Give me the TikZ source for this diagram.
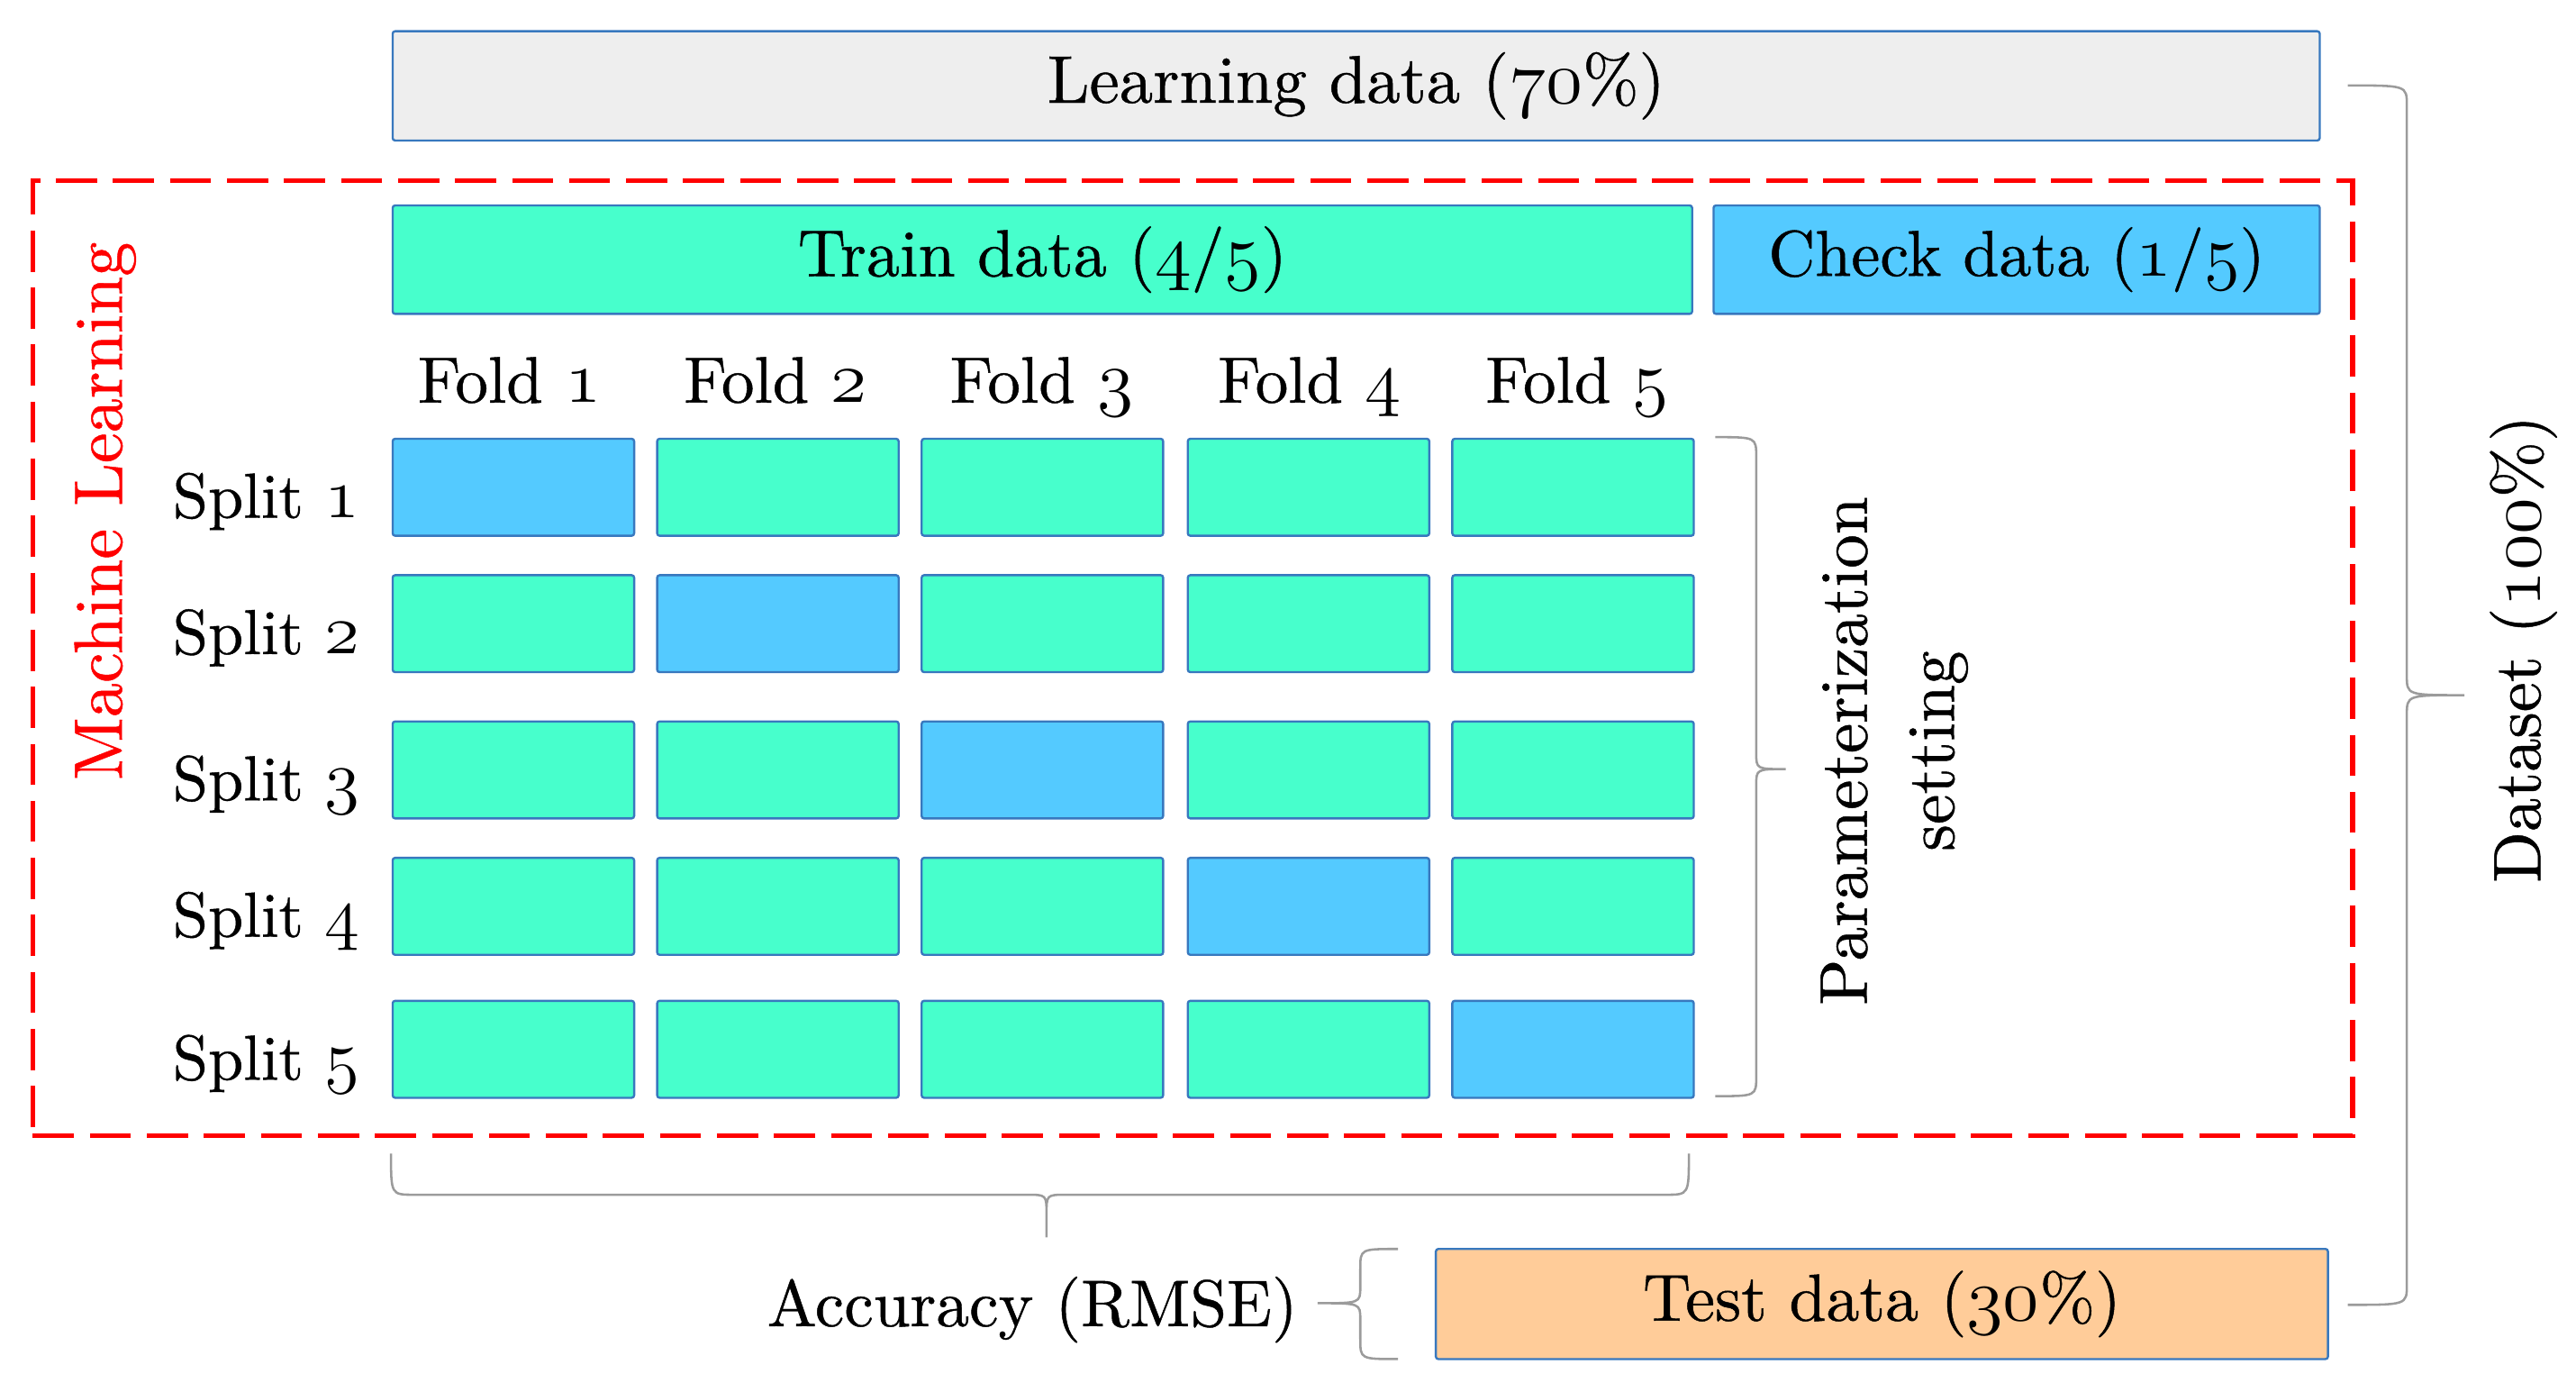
\RequirePackage{fix-cm}
\documentclass[tikz,border=0pt]{standalone}
\usepackage{fontspec}
\setmainfont{lmroman10-regular.otf}[RawFeature={embolden=0.6}]
\definecolor{cgreen}{RGB}{71,255,204}
\definecolor{cblue}{RGB}{84,202,255}
\definecolor{corange}{RGB}{255,204,153}
\definecolor{cgrey}{RGB}{238,238,238}
\definecolor{cedge}{RGB}{56,120,190}
\definecolor{cbrace}{RGB}{155,155,155}
\newcommand{\osn}[1]{{\fontsize{\fpeval{1.12*\csname f@size\endcsname}}{0}\usefont{OML}{cmm}{m}{it}#1}}
\newcommand{\fs}[1]{\fontsize{#1}{\fpeval{1.22*#1}}\selectfont}
\begin{document}
\begin{tikzpicture}[x=1pt,y=-1pt,
  box/.style={draw=cedge, line width=1.3pt, rounded corners=1.5pt, inner sep=0pt, outer sep=0pt, font=\fs{40.5}},
  cell/.style={box, minimum width=147pt, minimum height=59pt},
  lbl/.style={inner sep=0pt, font=\fs{40}},
  bracestyle/.style={draw=cbrace, line width=1.4pt},
  mlbox/.style={draw=red, line width=2.8pt, dash pattern=on 25pt off 9.7pt, inner sep=0pt}]
\useasboundingbox (0,0) rectangle (1568,846.5);
% dataset boxes
\node[box, fill=cgrey, minimum width=1173pt, minimum height=66.5pt, font=\fs{41}] (learn) at (825.5,52.25) {Learning data (\osn{70}\%)};
\node[mlbox, minimum width=1412pt, minimum height=581pt] (ml) at (726,400.5) {};
\node[box, fill=cgreen, minimum width=791pt, minimum height=66pt] (train) at (634.5,158) {Train data (\osn{4}/\osn{5})};
\node[box, fill=cblue, minimum width=369pt, minimum height=66pt, font=\fs{39.5}] (check) at (1227.5,158) {Check data (\osn{1}/\osn{5})};
\node[box, fill=corange, minimum width=543pt, minimum height=67pt] (test) at (1145.5,793.5) {Test data (\osn{30}\%)};
% fold labels
\foreach \c/\cx in {1/310,2/472,3/634,4/797,5/960}
  \node[lbl, anchor=base] (f\c) at (\cx,245) {Fold \osn{\c}};
% grid
\foreach \r/\cy in {1/296.5,2/379.5,3/468.5,4/551.5,5/638.5}{
  \node[lbl, anchor=base, font=\fs{38.7}] (s\r) at (162,\cy+18.5) {Split \osn{\r}};
  \foreach \c/\cx in {1/312.5,2/473.5,3/634.5,4/796.5,5/957.5}{
    \ifnum\r=\c \def\fc{cblue}\else\def\fc{cgreen}\fi
    \node[cell, fill=\fc] (c\r\c) at (\cx,\cy) {};
  }
}
% side texts
\node[lbl, rotate=90, text=red, font=\fs{41.7}] (mltxt) at (64,311) {Machine Learning};
\node[lbl, rotate=90, align=center, font=\fontsize{41.3}{53}\selectfont] (param) at (1153,457) {Parameterization\\setting};
\node[lbl, rotate=90, font=\fs{40.8}] (ds) at (1536,395) {Dataset (\osn{100}\%)};
\node[lbl, anchor=base east, font=\fs{40.2}] (acc) at (790,807) {Accuracy (RMSE)};
% braces
\draw[bracestyle] (1044,266) .. controls (1069,266) .. (1069,278) -- (1069,458) .. controls (1069,468) .. (1087,468)
  .. controls (1069,468) .. (1069,478) -- (1069,655) .. controls (1069,667) .. (1044,667);
\draw[bracestyle] (1429,52) .. controls (1465,52) .. (1465,64) -- (1465,411) .. controls (1465,423) .. (1500,423)
  .. controls (1465,423) .. (1465,435) -- (1465,782) .. controls (1465,794) .. (1429,794);
\draw[bracestyle] (851,760) .. controls (828,760) .. (828,772) -- (828,783) .. controls (828,793) .. (802,793)
  .. controls (828,793) .. (828,803) -- (828,815) .. controls (828,827) .. (851,827);
\draw[bracestyle] (238,702) .. controls (238,727) .. (252,727) -- (625,727) .. controls (637,727) .. (637,739) -- (637,753)
  -- (637,739) .. controls (637,727) .. (649,727) -- (1014,727) .. controls (1028,727) .. (1028,702);
\end{tikzpicture}
\end{document}
